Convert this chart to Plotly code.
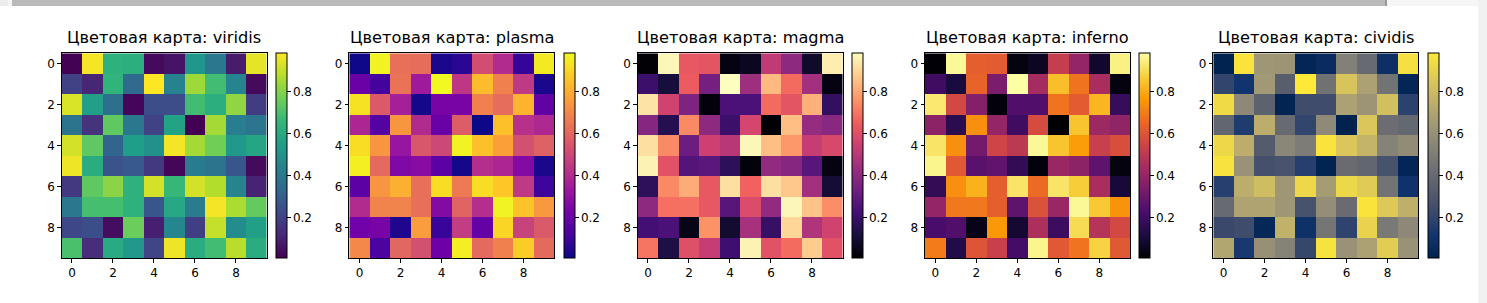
import plotly.graph_objects as go

W, H = 1487, 303

cmap_names = ["viridis", "plasma", "magma", "inferno", "cividis"]
plotly_scales = ["Viridis", "Plasma", "Magma", "Inferno", "Cividis"]
title_prefix = "Цветовая карта: "

row0 = [0.010, 0.970, 0.630, 0.620, 0.030, 0.060, 0.520, 0.400, 0.080, 0.950]
row1 = [0.200, 0.110, 0.640, 0.340, 0.984, 0.440, 0.840, 0.680, 0.450, 0.030]
row2 = [0.930, 0.560, 0.360, 0.020, 0.240, 0.240, 0.680, 0.620, 0.820, 0.180]
row3 = [0.380, 0.150, 0.740, 0.400, 0.200, 0.570, 0.006, 0.850, 0.420, 0.390]
row4 = [0.920, 0.740, 0.320, 0.550, 0.500, 0.970, 0.850, 0.770, 0.530, 0.580]
row5 = [0.960, 0.610, 0.260, 0.280, 0.170, 0.020, 0.410, 0.380, 0.270, 0.030]
row6 = [0.170, 0.740, 0.810, 0.630, 0.920, 0.660, 0.920, 0.870, 0.450, 0.100]
row7 = [0.400, 0.690, 0.690, 0.630, 0.270, 0.590, 0.410, 0.970, 0.860, 0.750]
row8 = [0.220, 0.240, 0.040, 0.760, 0.090, 0.460, 0.190, 0.900, 0.480, 0.560]
row9 = [0.700, 0.130, 0.600, 0.530, 0.210, 0.960, 0.610, 0.680, 0.880, 0.610]
data = [row0, row1, row2, row3, row4, row5, row6, row7, row8, row9]

cells = list(range(10))
axis_ticks = [0, 2, 4, 6, 8]
cbar_ticks = [0.2, 0.4, 0.6, 0.8]
cbar_ticktext = ["0.2", "0.4", "0.6", "0.8"]

# layout in pixels
left_px = [61.7, 349.3, 637.7, 925.0, 1213.3]
size_px = 205.0
top_px = 53.3
cbar_gap_px = 9.3
cbar_w_px = 11.0

FONT = "DejaVu Sans"

fig = go.Figure()
y0 = (H - (top_px + size_px)) / H
y1 = (H - top_px) / H

annotations = []
for i, (name, scale) in enumerate(zip(cmap_names, plotly_scales)):
    xa = "x" if i == 0 else f"x{i+1}"
    ya = "y" if i == 0 else f"y{i+1}"
    x0 = left_px[i] / W
    x1 = (left_px[i] + size_px) / W
    fig.add_trace(go.Heatmap(
        z=data, x=cells, y=cells, colorscale=scale,
        xaxis=xa, yaxis=ya,
        colorbar=dict(
            x=(left_px[i] + size_px + cbar_gap_px) / W, xanchor="left",
            y=(y0 + y1) / 2, yanchor="middle",
            len=size_px / H, lenmode="fraction",
            thickness=cbar_w_px, thicknessmode="pixels",
            xpad=0, ypad=0,
            outlinewidth=1, outlinecolor="black",
            tickmode="array", tickvals=cbar_ticks, ticktext=cbar_ticktext,
            ticks="outside", ticklen=3.5, tickwidth=1, tickcolor="black",
            tickfont=dict(family=FONT, size=12, color="black"),
        ),
        hoverongaps=False,
    ))
    axkw = dict(showline=True, mirror=True, linecolor="black", linewidth=1,
                ticks="outside", ticklen=3.5, tickwidth=1, tickcolor="black",
                tickmode="array", tickvals=axis_ticks,
                tickfont=dict(family=FONT, size=12, color="black"),
                showgrid=False, zeroline=False)
    fig.layout[("xaxis" if i == 0 else f"xaxis{i+1}")] = dict(
        domain=[x0, x1], range=[-0.5, 9.5], anchor=ya, **axkw)
    fig.layout[("yaxis" if i == 0 else f"yaxis{i+1}")] = dict(
        domain=[y0, y1], range=[9.5, -0.5], anchor=xa, **axkw)
    annotations.append(dict(
        text=title_prefix + name, x=(x0 + x1) / 2, y=(H - 49) / H,
        xref="paper", yref="paper", xanchor="center", yanchor="bottom",
        showarrow=False, font=dict(family=FONT, size=16.2, color="black")))

shapes = [
    dict(type="rect", xref="paper", yref="paper", x0=0, x1=8 / W, y0=1 - 6 / H, y1=1,
         fillcolor="#ececec", line_width=0, layer="above"),
    dict(type="rect", xref="paper", yref="paper", x0=8 / W, x1=12 / W, y0=1 - 6 / H, y1=1,
         fillcolor="#f5f5f5", line_width=0, layer="above"),
    dict(type="rect", xref="paper", yref="paper", x0=12 / W, x1=1386 / W, y0=1 - 6 / H, y1=1,
         fillcolor="#b9b9b9", line_width=0, layer="above"),
    dict(type="rect", xref="paper", yref="paper", x0=1385 / W, x1=1387 / W, y0=1 - 6 / H, y1=1,
         fillcolor="#9a9a9a", line_width=0, layer="above"),
    dict(type="rect", xref="paper", yref="paper", x0=1387 / W, x1=1478 / W, y0=1 - 6 / H, y1=1,
         fillcolor="#f5f5f5", line_width=0, layer="above"),
    dict(type="rect", xref="paper", yref="paper", x0=1478 / W, x1=1, y0=0, y1=1,
         fillcolor="#f1f1f1", line_width=0, layer="above"),
]

fig.update_layout(
    width=W, height=H,
    margin=dict(l=0, r=0, t=0, b=0),
    paper_bgcolor="white", plot_bgcolor="white",
    annotations=annotations, shapes=shapes,
    font=dict(family=FONT, size=12, color="black"),
    showlegend=False,
)

fig.write_html("out.html", config={"displayModeBar": False})
